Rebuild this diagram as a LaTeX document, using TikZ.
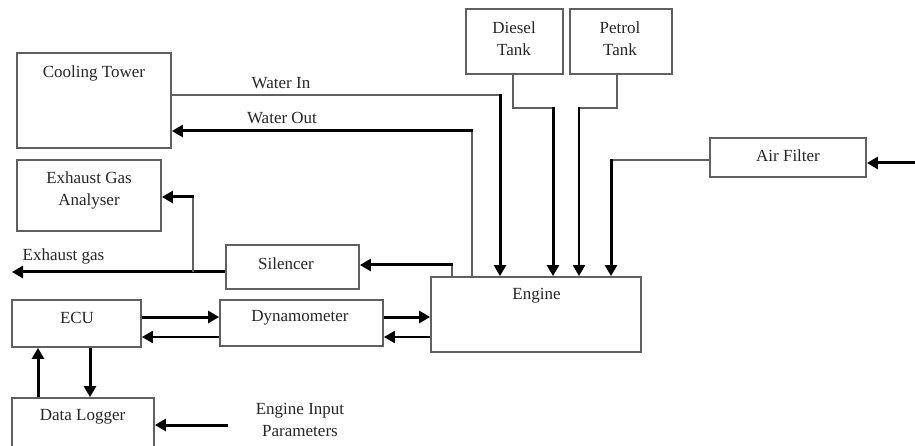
\documentclass[tikz,border=0pt]{standalone}
\usepackage{fontspec}
\setmainfont{Liberation Serif}
\usetikzlibrary{arrows.meta}
\definecolor{boxgray}{HTML}{606060}
\definecolor{txt}{HTML}{262626}
\begin{document}
\begin{tikzpicture}[x=1pt,y=-1pt,
  box/.style={draw=boxgray, line width=1.8pt, rectangle, inner sep=0pt},
  lbl/.style={text=txt, inner sep=0pt, align=center, font=\fontsize{17}{22}\selectfont},
  pipe/.style={line width=1.6pt, draw=boxgray},
  flow/.style={line width=3pt, draw=black, -{Triangle[length=11pt,width=12pt]}},
  flowthin/.style={line width=2.2pt, draw=black, -{Triangle[length=11pt,width=12pt]}}
]
\useasboundingbox (0,0) rectangle (915,446);
\fill[white] (0,0) rectangle (915,446);

% boxes
\node[box, minimum width=154pt, minimum height=95pt] (ct) at (94,100.5) {};
\node[box, minimum width=144pt, minimum height=71pt] (ega) at (89,195.5) {};
\node[box, minimum width=97pt, minimum height=65pt] (dt) at (514.5,41.5) {};
\node[box, minimum width=102pt, minimum height=65pt] (pt) at (621,41.5) {};
\node[box, minimum width=156pt, minimum height=39pt] (af) at (788,157.5) {};
\node[box, minimum width=210pt, minimum height=75pt] (eng) at (536,314.5) {};
\node[box, minimum width=133pt, minimum height=44pt] (sil) at (292.5,267) {};
\node[box, minimum width=129pt, minimum height=47pt] (ecu) at (76.5,323.5) {};
\node[box, minimum width=163pt, minimum height=46pt] (dyn) at (301.5,323) {};
\node[box, minimum width=142pt, minimum height=52pt] (dl) at (83,424) {};

% box texts
\node[lbl] (tct) at (94,73) {Cooling Tower};
\node[lbl] (tega) at (89,190) {Exhaust Gas\\Analyser};
\node[lbl] (tdt) at (514,39) {Diesel\\Tank};
\node[lbl] (tpt) at (620,39) {Petrol\\Tank};
\node[lbl] (taf) at (788,156) {Air Filter};
\node[lbl] (teng) at (536.5,296) {Engine};
\node[lbl] (tsil) at (286,264) {Silencer};
\node[lbl] (tecu) at (77,318) {ECU};
\node[lbl] (tdyn) at (300,318) {Dynamometer};
\node[lbl] (tdl) at (82.5,417) {Data Logger};

% free labels
\node[lbl] (lwi) at (281,83) {Water In};
\node[lbl] (lwo) at (282,118) {Water Out};
\node[lbl] (lex) at (63.5,256) {Exhaust gas};
\node[lbl] (leip) at (300,420) {Engine Input\\Parameters};

% corner coordinates
\coordinate (wiC) at (500,95);
\coordinate (woC) at (472,131);
\coordinate (d1) at (513,108);
\coordinate (d2) at (553,108);
\coordinate (p1) at (617,108);
\coordinate (p2) at (579,108);
\coordinate (a1) at (611,160);
\coordinate (ain) at (915,163);
\coordinate (s1) at (452,265);
\coordinate (ex) at (12,272);
\coordinate (b1) at (193,272);
\coordinate (b2) at (193,197);
\coordinate (r1) at (0,317);
\coordinate (r2) at (0,337);
\coordinate (u1) at (38,0);
\coordinate (u2) at (90,0);
\coordinate (ip) at (228,425);

% water
\draw[pipe] (ct.east |- wiC) -- (wiC);
\draw[flow] ([yshift=0.8pt]wiC) -- (wiC |- eng.north);
\draw[pipe] (woC |- eng.north) -- (woC);
\draw[flow] ([xshift=0.8pt]woC) -- (ct.east |- woC);
% fuel
\draw[pipe] (d1 |- dt.south) -- (d1) -- (d2);
\draw[flow] ([yshift=0.8pt]d2) -- (d2 |- eng.north);
\draw[pipe] (p1 |- pt.south) -- (p1) -- (p2);
\draw[flowthin] ([yshift=0.8pt]p2) -- (p2 |- eng.north);
% air
\draw[pipe] (af.west |- a1) -- (a1);
\draw[flow] ([yshift=0.8pt]a1) -- (a1 |- eng.north);
\draw[flow] (ain) -- (af.east |- ain);
% exhaust
\draw[pipe] (s1 |- eng.north) -- (s1);
\draw[flow] ([xshift=0.8pt]s1) -- (sil.east |- s1);
\draw[flow] (sil.west |- ex) -- (ex);
\draw[pipe] (b1) -- (b2);
\draw[flow] ([xshift=0.8pt]b2) -- (ega.east |- b2);
% ECU / dyno / engine
\draw[flow] (ecu.east |- r1) -- (dyn.west |- r1);
\draw[flowthin] (dyn.west |- r2) -- (ecu.east |- r2);
\draw[flow] (dyn.east |- r1) -- (eng.west |- r1);
\draw[flowthin] (eng.west |- r2) -- (dyn.east |- r2);
% ECU / data logger
\draw[flow] (u1 |- dl.north) -- (u1 |- ecu.south);
\draw[flow] (u2 |- ecu.south) -- (u2 |- dl.north);
\draw[flow] (ip) -- (dl.east |- ip);
\end{tikzpicture}
\end{document}
